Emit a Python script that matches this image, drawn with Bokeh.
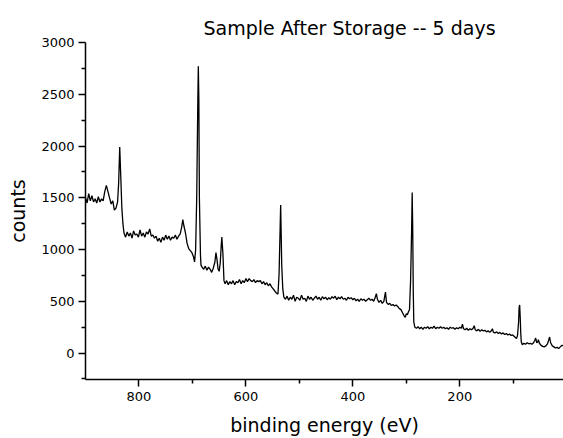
from bokeh.plotting import figure
from bokeh.models import Range1d, FixedTicker, Title, ColumnDataSource
from bokeh.embed import file_html
from bokeh.resources import INLINE

title_text = "Sample After Storage -- 5 days"
x_label = "binding energy (eV)"
y_label = "counts"
x_major = [200, 400, 600, 800]
x_minor = [100, 300, 500, 700]
y_major = [0, 500, 1000, 1500, 2000, 2500, 3000]
y_minor = [-250, 250, 750, 1250, 1750, 2250, 2750]

energy_a = [900, 897, 894, 891, 888, 885, 882, 879, 876, 873, 870, 867, 864, 861, 858, 855, 852, 849, 846, 843,
            840, 838, 836, 834, 832, 830, 828]
counts_a = [1500, 1450, 1540, 1470, 1520, 1460, 1490, 1450, 1510, 1460, 1490, 1470, 1560, 1620, 1560, 1500, 1440, 1470, 1380, 1400,
            1460, 1640, 1990, 1700, 1400, 1250, 1160]

energy_b = [825, 822, 819, 816, 813, 810, 807, 804, 801, 798, 795, 792, 789, 786, 783, 780, 777, 774, 771, 768,
            765, 762, 759, 756, 753, 750, 747, 744, 741, 738, 735, 732, 729, 726, 723, 720, 718, 716, 713, 710,
            707, 704, 701, 698, 696, 694, 692, 690, 689, 688, 687, 685, 684]
counts_b = [1120, 1170, 1130, 1160, 1110, 1180, 1140, 1150, 1120, 1190, 1130, 1160, 1120, 1170, 1150, 1200, 1130, 1140, 1110, 1130,
            1080, 1110, 1070, 1120, 1090, 1140, 1100, 1130, 1090, 1120, 1110, 1140, 1100, 1130, 1150, 1220, 1290, 1230, 1160, 1060,
            1010, 990, 970, 930, 880, 1000, 1500, 2400, 2770, 2450, 1500, 950, 850]

energy_c = [682, 679, 676, 673, 670, 667, 664, 661, 658, 656, 654, 652, 650, 648, 646, 645, 643, 641, 639, 636,
            633, 630, 627, 624, 621, 618, 615, 612, 609, 606, 603, 600, 597, 594, 591, 588, 585, 582, 579, 576,
            573, 570, 567, 564, 561, 558, 555, 552, 549, 546, 543, 540, 538, 536, 535, 534, 533, 531, 529, 526]
counts_c = [830, 810, 840, 800, 830, 810, 780, 820, 880, 970, 900, 810, 790, 870, 1050, 1120, 960, 700, 670, 700,
            660, 690, 670, 700, 660, 690, 680, 710, 670, 700, 680, 720, 690, 720, 700, 690, 710, 680, 700, 690,
            700, 670, 690, 660, 680, 650, 670, 640, 620, 600, 580, 570, 760, 1200, 1430, 1150, 850, 620, 540, 520]

energy_d = [523, 520, 517, 514, 511, 508, 505, 502, 499, 496, 493, 490, 487, 484, 481, 478, 475, 472, 469, 466,
            463, 460, 457, 454, 451, 448, 445, 442, 439, 436, 433, 430, 427, 424, 421, 418, 415, 412, 409, 406,
            403, 400, 397, 394, 391, 388, 385, 382, 379, 376, 373, 370, 367, 364, 361, 358, 356, 354, 351, 348,
            345, 342, 340, 339, 337, 334, 331, 328, 325, 322, 319, 316, 313, 310, 307, 304, 302, 300, 298, 296,
            294, 292, 290, 289, 288, 287, 286, 284]
counts_d = [550, 510, 540, 520, 560, 500, 540, 530, 510, 560, 520, 530, 500, 550, 520, 540, 510, 530, 550, 520,
            540, 510, 545, 525, 540, 515, 535, 520, 545, 530, 550, 515, 540, 525, 545, 520, 530, 510, 540, 525,
            535, 515, 530, 505, 520, 500, 525, 510, 520, 500, 515, 530, 510, 520, 500, 540, 575, 520, 490, 510,
            480, 500, 560, 590, 490, 470, 480, 460, 470, 455, 465, 450, 430, 420, 390, 360, 345, 380, 370, 400,
            420, 700, 1200, 1550, 1200, 600, 300, 250]

energy_e = [281, 278, 275, 272, 269, 266, 263, 260, 257, 254, 251, 248, 245, 242, 239, 236, 233, 230, 227, 224,
            221, 218, 215, 212, 209, 206, 203, 200, 197, 195, 193, 190, 187, 184, 181, 178, 175, 173, 171, 168,
            165, 162, 159, 156, 153, 150, 147, 144, 141, 139, 137, 134, 131, 128, 125, 122, 119, 116, 113, 110,
            107, 104, 101, 98, 96, 94, 92, 90, 89, 88, 87, 86, 85, 83, 80, 77, 74, 71, 68, 65,
            62, 60, 58, 56, 54, 53, 51, 48, 45, 42, 39, 36, 34, 32, 30, 27, 24, 21, 18, 15,
            12, 9, 6]
counts_e = [240, 255, 235, 250, 230, 250, 240, 255, 235, 250, 240, 260, 235, 250, 240, 255, 240, 250, 235, 245,
            230, 250, 240, 245, 230, 245, 235, 250, 240, 280, 235, 225, 240, 220, 235, 225, 240, 265, 225, 215,
            230, 210, 225, 215, 220, 205, 215, 200, 215, 235, 200, 195, 205, 190, 200, 185, 195, 180, 190, 175,
            185, 170, 175, 160, 150, 140, 170, 300, 440, 465, 350, 200, 110, 80, 95, 85, 100, 90, 95, 85,
            100, 120, 145, 100, 110, 130, 95, 75, 65, 60, 70, 90, 120, 155, 100, 70, 60, 50, 55, 45,
            60, 75, 70]

energy = energy_a + energy_b + energy_c + energy_d + energy_e
counts = counts_a + counts_b + counts_c + counts_d + counts_e

FONT = "DejaVu Sans"

p = figure(width=563, height=438, output_backend="svg", toolbar_location=None,
           x_range=Range1d(900, 6), y_range=Range1d(-255, 3000),
           min_border_left=85, min_border_right=0, min_border_top=42, min_border_bottom=58)

p.title.visible = False
t = Title(text=title_text, align="left", offset=118, text_font=FONT, text_font_size="19px",
          text_font_style="normal", text_color="black", standoff=8, padding=0)
p.add_layout(t, "above")

src = ColumnDataSource(dict(energy=energy, counts=counts))
p.line("energy", "counts", source=src, line_color="black", line_width=1.3)

p.outline_line_color = None
p.xgrid.visible = False
p.ygrid.visible = False
p.background_fill_color = "white"
p.border_fill_color = "white"

for ax in (p.xaxis[0], p.yaxis[0]):
    ax.axis_line_color = "black"
    ax.axis_line_width = 1.5
    ax.major_tick_line_color = "black"
    ax.minor_tick_line_color = "black"
    ax.major_tick_line_width = 1.5
    ax.minor_tick_line_width = 1.5
    ax.major_tick_out = 7
    ax.major_tick_in = 0
    ax.minor_tick_out = 4
    ax.minor_tick_in = 0
    ax.major_label_text_font = FONT
    ax.major_label_text_font_size = "13px"
    ax.major_label_text_color = "black"
    ax.axis_label_text_font = FONT
    ax.axis_label_text_font_size = "19px"
    ax.axis_label_text_font_style = "normal"
    ax.axis_label_text_color = "black"

p.xaxis[0].ticker = FixedTicker(ticks=x_major, minor_ticks=x_minor)
p.yaxis[0].ticker = FixedTicker(ticks=y_major, minor_ticks=y_minor)
p.xaxis[0].axis_label = x_label
p.yaxis[0].axis_label = y_label
p.xaxis[0].major_label_standoff = 5
p.yaxis[0].major_label_standoff = 4
p.xaxis[0].axis_label_standoff = 10
p.yaxis[0].axis_label_standoff = 9

open("out.html", "w").write(file_html(p, INLINE))
